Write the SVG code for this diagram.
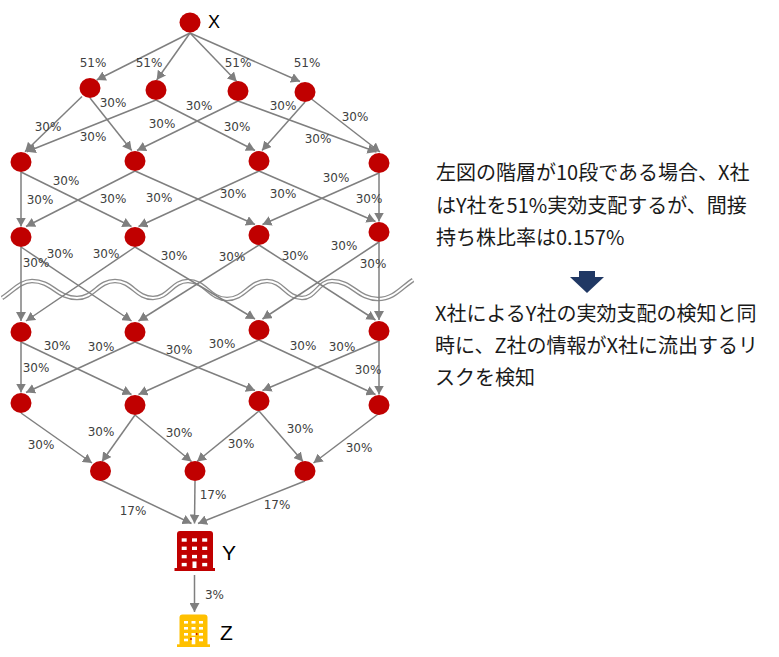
<svg xmlns="http://www.w3.org/2000/svg" width="779" height="657" viewBox="0 0 779 657">
<defs>
<style>
.n{fill:#C00000}
.e{stroke:#7F7F7F;stroke-width:1.5;fill:none;marker-end:url(#ah)}
.el{font-family:"DejaVu Sans",Verdana,sans-serif;font-size:12px;fill:#404040;text-anchor:middle}
.lbl{font-family:"Liberation Sans",Arial,sans-serif;fill:#000}
.jp{font-family:"Noto Sans CJK JP","Noto Sans CJK SC",sans-serif;font-size:20px;fill:#1a1a1a}
.w{fill:#fff}
</style>
<marker id="ah" markerUnits="userSpaceOnUse" markerWidth="10" markerHeight="10" refX="9" refY="5" orient="auto"><path d="M0,0 L9,5 L0,10 z" fill="#7F7F7F"/></marker>
</defs>
<rect width="779" height="657" fill="#fff"/>

<g id="wave">
<path d="M2,298 C12,292 20,281 32,281 C52,281 57,298 77,298 C94,298 98,281 115,281 C132,281 136,298 153,298 C169,298 172,281 188,281 C205.5,281 209.5,299 227,299 C245,299 249,281 267,281 C283,281 286,298 302,298 C315.5,298 318.5,281 332,281 C352.5,281 357.5,299 378,299 C394,299 402,287 413,280" fill="none" stroke="#8C8C8C" stroke-width="4.6"/>
<path d="M2,298 C12,292 20,281 32,281 C52,281 57,298 77,298 C94,298 98,281 115,281 C132,281 136,298 153,298 C169,298 172,281 188,281 C205.5,281 209.5,299 227,299 C245,299 249,281 267,281 C283,281 286,298 302,298 C315.5,298 318.5,281 332,281 C352.5,281 357.5,299 378,299 C394,299 402,287 413,280" fill="none" stroke="#fff" stroke-width="2"/>
</g>

<g id="connectors">
<line class="e" x1="190" y1="33" x2="96.7" y2="80"/>
<line class="e" x1="190" y1="33" x2="156.7" y2="80"/>
<line class="e" x1="190" y1="33" x2="236.7" y2="81.5"/>
<line class="e" x1="190" y1="33" x2="300" y2="81.5"/>

<line class="e" x1="82" y1="96.5" x2="25" y2="151.7"/>
<line class="e" x1="90" y1="98" x2="131.7" y2="150.5"/>
<line class="e" x1="156" y1="100" x2="26.7" y2="151.7"/>
<line class="e" x1="156" y1="100" x2="255" y2="150.5"/>
<line class="e" x1="238" y1="101" x2="137" y2="150.5"/>
<line class="e" x1="238" y1="101" x2="376.5" y2="152"/>
<line class="e" x1="305" y1="102" x2="262" y2="150.5"/>
<line class="e" x1="311.5" y1="99" x2="380" y2="152"/>

<line class="e" x1="21" y1="172" x2="21" y2="226.5"/>
<line class="e" x1="21" y1="172" x2="131.5" y2="226.5"/>
<line class="e" x1="135" y1="171" x2="26" y2="226.5"/>
<line class="e" x1="135" y1="171" x2="255" y2="224.5"/>
<line class="e" x1="259" y1="171" x2="138.5" y2="226.5"/>
<line class="e" x1="259" y1="171" x2="375.5" y2="221.5"/>
<line class="e" x1="379" y1="173" x2="262.5" y2="224.5"/>
<line class="e" x1="379" y1="173" x2="379" y2="221.5"/>

<line class="e" x1="21" y1="247" x2="21" y2="321"/>
<line class="e" x1="21" y1="247" x2="131.5" y2="321"/>
<line class="e" x1="135" y1="247" x2="26" y2="321"/>
<line class="e" x1="135" y1="247" x2="255" y2="319"/>
<line class="e" x1="259" y1="245" x2="138.5" y2="321"/>
<line class="e" x1="259" y1="245" x2="375.5" y2="320"/>
<line class="e" x1="379" y1="242" x2="262.5" y2="319"/>
<line class="e" x1="379" y1="242" x2="379" y2="320"/>

<line class="e" x1="21" y1="342" x2="21" y2="392.5"/>
<line class="e" x1="21" y1="342" x2="131.5" y2="394.5"/>
<line class="e" x1="135" y1="342" x2="26" y2="392.5"/>
<line class="e" x1="135" y1="342" x2="255" y2="390.5"/>
<line class="e" x1="259" y1="340" x2="138.5" y2="394.5"/>
<line class="e" x1="259" y1="340" x2="375.5" y2="394.5"/>
<line class="e" x1="379" y1="341" x2="262.5" y2="390.5"/>
<line class="e" x1="379" y1="341" x2="379" y2="394.5"/>

<line class="e" x1="21" y1="413" x2="92" y2="463"/>
<line class="e" x1="135" y1="415" x2="102" y2="461.5"/>
<line class="e" x1="135" y1="415" x2="191.5" y2="461.5"/>
<line class="e" x1="259" y1="411" x2="197" y2="461.5"/>
<line class="e" x1="259" y1="411" x2="303" y2="461.5"/>
<line class="e" x1="379.5" y1="413" x2="313.5" y2="463"/>

<line class="e" x1="100.5" y1="480" x2="191.5" y2="523.5"/>
<line class="e" x1="195" y1="481" x2="194.5" y2="523.5"/>
<line class="e" x1="305" y1="481" x2="198" y2="523.5"/>

<line class="e" x1="194.5" y1="575" x2="194.5" y2="612"/>
</g>

<g id="labels">
<text class="el" x="93" y="67.4">51%</text>
<text class="el" x="149" y="67.4">51%</text>
<text class="el" x="238" y="67.4">51%</text>
<text class="el" x="307" y="67.4">51%</text>

<text class="el" x="113" y="107.4">30%</text>
<text class="el" x="48" y="131.4">30%</text>
<text class="el" x="93" y="141.4">30%</text>
<text class="el" x="162" y="128.4">30%</text>
<text class="el" x="199" y="110.4">30%</text>
<text class="el" x="237" y="131.4">30%</text>
<text class="el" x="283" y="110.4">30%</text>
<text class="el" x="355" y="121.4">30%</text>
<text class="el" x="318" y="143.4">30%</text>

<text class="el" x="66" y="185.4">30%</text>
<text class="el" x="40" y="204.4">30%</text>
<text class="el" x="113" y="203.4">30%</text>
<text class="el" x="159" y="202.4">30%</text>
<text class="el" x="233" y="198.4">30%</text>
<text class="el" x="283" y="198.4">30%</text>
<text class="el" x="336" y="182.4">30%</text>
<text class="el" x="369" y="203.4">30%</text>

<text class="el" x="60" y="258.4">30%</text>
<text class="el" x="36" y="267.4">30%</text>
<text class="el" x="106" y="258.4">30%</text>
<text class="el" x="174" y="260.4">30%</text>
<text class="el" x="232" y="261.4">30%</text>
<text class="el" x="295" y="260.4">30%</text>
<text class="el" x="344" y="250.4">30%</text>
<text class="el" x="373" y="268.4">30%</text>

<text class="el" x="57" y="350.4">30%</text>
<text class="el" x="101" y="351.4">30%</text>
<text class="el" x="36" y="372.4">30%</text>
<text class="el" x="179" y="354.4">30%</text>
<text class="el" x="222" y="348.4">30%</text>
<text class="el" x="303" y="350.4">30%</text>
<text class="el" x="342" y="351.4">30%</text>
<text class="el" x="368" y="374.4">30%</text>

<text class="el" x="41" y="449.4">30%</text>
<text class="el" x="101" y="436.4">30%</text>
<text class="el" x="179" y="437.4">30%</text>
<text class="el" x="241" y="448.4">30%</text>
<text class="el" x="300" y="433.4">30%</text>
<text class="el" x="359" y="452.4">30%</text>

<text class="el" x="133" y="515.4">17%</text>
<text class="el" x="213" y="499.4">17%</text>
<text class="el" x="277" y="509.4">17%</text>

<text class="el" x="214.5" y="599.4">3%</text>
</g>

<g id="node-X"><ellipse class="n" cx="190" cy="22.5" rx="10.5" ry="10"/><text class="lbl" x="208" y="27.5" font-size="18">X</text></g>
<g id="node-r1a"><ellipse class="n" cx="90" cy="88" rx="10.5" ry="10"/></g>
<g id="node-r1b"><ellipse class="n" cx="156" cy="90" rx="10.5" ry="10"/></g>
<g id="node-r1c"><ellipse class="n" cx="238" cy="91" rx="10.5" ry="10"/></g>
<g id="node-r1d"><ellipse class="n" cx="305" cy="92" rx="10.5" ry="10"/></g>
<g id="node-r2a"><ellipse class="n" cx="21" cy="162" rx="10.5" ry="10"/></g>
<g id="node-r2b"><ellipse class="n" cx="135" cy="161" rx="10.5" ry="10"/></g>
<g id="node-r2c"><ellipse class="n" cx="259" cy="161" rx="10.5" ry="10"/></g>
<g id="node-r2d"><ellipse class="n" cx="379" cy="163" rx="10.5" ry="10"/></g>
<g id="node-r3a"><ellipse class="n" cx="21" cy="237" rx="10.5" ry="10"/></g>
<g id="node-r3b"><ellipse class="n" cx="135" cy="237" rx="10.5" ry="10"/></g>
<g id="node-r3c"><ellipse class="n" cx="259" cy="235" rx="10.5" ry="10"/></g>
<g id="node-r3d"><ellipse class="n" cx="379" cy="232" rx="10.5" ry="10"/></g>
<g id="node-r4a"><ellipse class="n" cx="21" cy="332" rx="10.5" ry="10"/></g>
<g id="node-r4b"><ellipse class="n" cx="135" cy="332" rx="10.5" ry="10"/></g>
<g id="node-r4c"><ellipse class="n" cx="259" cy="330" rx="10.5" ry="10"/></g>
<g id="node-r4d"><ellipse class="n" cx="379" cy="331" rx="10.5" ry="10"/></g>
<g id="node-r5a"><ellipse class="n" cx="21" cy="403" rx="10.5" ry="10"/></g>
<g id="node-r5b"><ellipse class="n" cx="135" cy="405" rx="10.5" ry="10"/></g>
<g id="node-r5c"><ellipse class="n" cx="259" cy="401" rx="10.5" ry="10"/></g>
<g id="node-r5d"><ellipse class="n" cx="379" cy="405" rx="10.5" ry="10"/></g>
<g id="node-r6a"><ellipse class="n" cx="100.5" cy="471" rx="10.5" ry="10"/></g>
<g id="node-r6b"><ellipse class="n" cx="195" cy="471" rx="10.5" ry="10"/></g>
<g id="node-r6c"><ellipse class="n" cx="305" cy="471" rx="10.5" ry="10"/></g>

<g id="node-Y">
<path d="M177,571 V534 Q177,531 180,531 H210 Q213,531 213,534 V571 Z" fill="#C00000"/>
<rect x="174.5" y="568" width="40.5" height="3" fill="#C00000"/>
<g class="w">
<rect x="181.7" y="538.3" width="5" height="3.4"/><rect x="192" y="538.3" width="5" height="3.4"/><rect x="202.2" y="538.3" width="5" height="3.4"/>
<rect x="181.7" y="546.6" width="5" height="3.4"/><rect x="192" y="546.6" width="5" height="3.4"/><rect x="202.2" y="546.6" width="5" height="3.4"/>
<rect x="181.7" y="554.9" width="5" height="3.4"/><rect x="192" y="554.9" width="5" height="3.4"/><rect x="202.2" y="554.9" width="5" height="3.4"/>
<rect x="181.7" y="562.9" width="5" height="3.4"/><rect x="192.5" y="561.5" width="4" height="6.5"/><rect x="202.2" y="562.9" width="5" height="3.4"/>
</g>
<text class="lbl" x="222" y="560" font-size="21">Y</text>
</g>

<g id="node-Z">
<path d="M179.5,647 V617.5 Q179.5,614.5 182.5,614.5 H204.5 Q207.5,614.5 207.5,617.5 V647 Z" fill="#FFC000"/>
<rect x="177" y="644.3" width="33" height="2.7" fill="#FFC000"/>
<g class="w">
<rect x="184" y="621" width="4" height="2.6"/><rect x="191.5" y="621" width="4" height="2.6"/><rect x="199" y="621" width="4" height="2.6"/>
<rect x="184" y="627" width="4" height="2.6"/><rect x="191.5" y="627" width="4" height="2.6"/><rect x="199" y="627" width="4" height="2.6"/>
<rect x="184" y="633" width="4" height="2.6"/><rect x="191.5" y="633" width="4" height="2.6"/><rect x="199" y="633" width="4" height="2.6"/>
<rect x="184" y="638.7" width="4" height="2.6"/><rect x="191.7" y="637" width="3.6" height="7.3"/><rect x="199" y="638.7" width="4" height="2.6"/>
</g>
<circle cx="196.7" cy="634" r="0.9" fill="#C00000"/>
<circle cx="191" cy="639" r="0.9" fill="#C00000"/>
<text class="lbl" x="220" y="640" font-size="21">Z</text>
</g>

<g id="note">
<text class="jp" x="436" y="179.5">左図の階層が10段である場合、X社</text>
<text class="jp" x="436" y="212.5">はY社を51%実効支配するが、間接</text>
<text class="jp" x="436" y="244.5">持ち株比率は0.157%</text>
<polygon points="579,271 595,271 595,277 604,277 587,293 570,277 579,277" fill="#203864"/>
<text class="jp" x="435" y="320.5">X社によるY社の実効支配の検知と同</text>
<text class="jp" x="435" y="352.5">時に、Z社の情報がX社に流出するリ</text>
<text class="jp" x="435" y="384.5">スクを検知</text>
</g>
</svg>
